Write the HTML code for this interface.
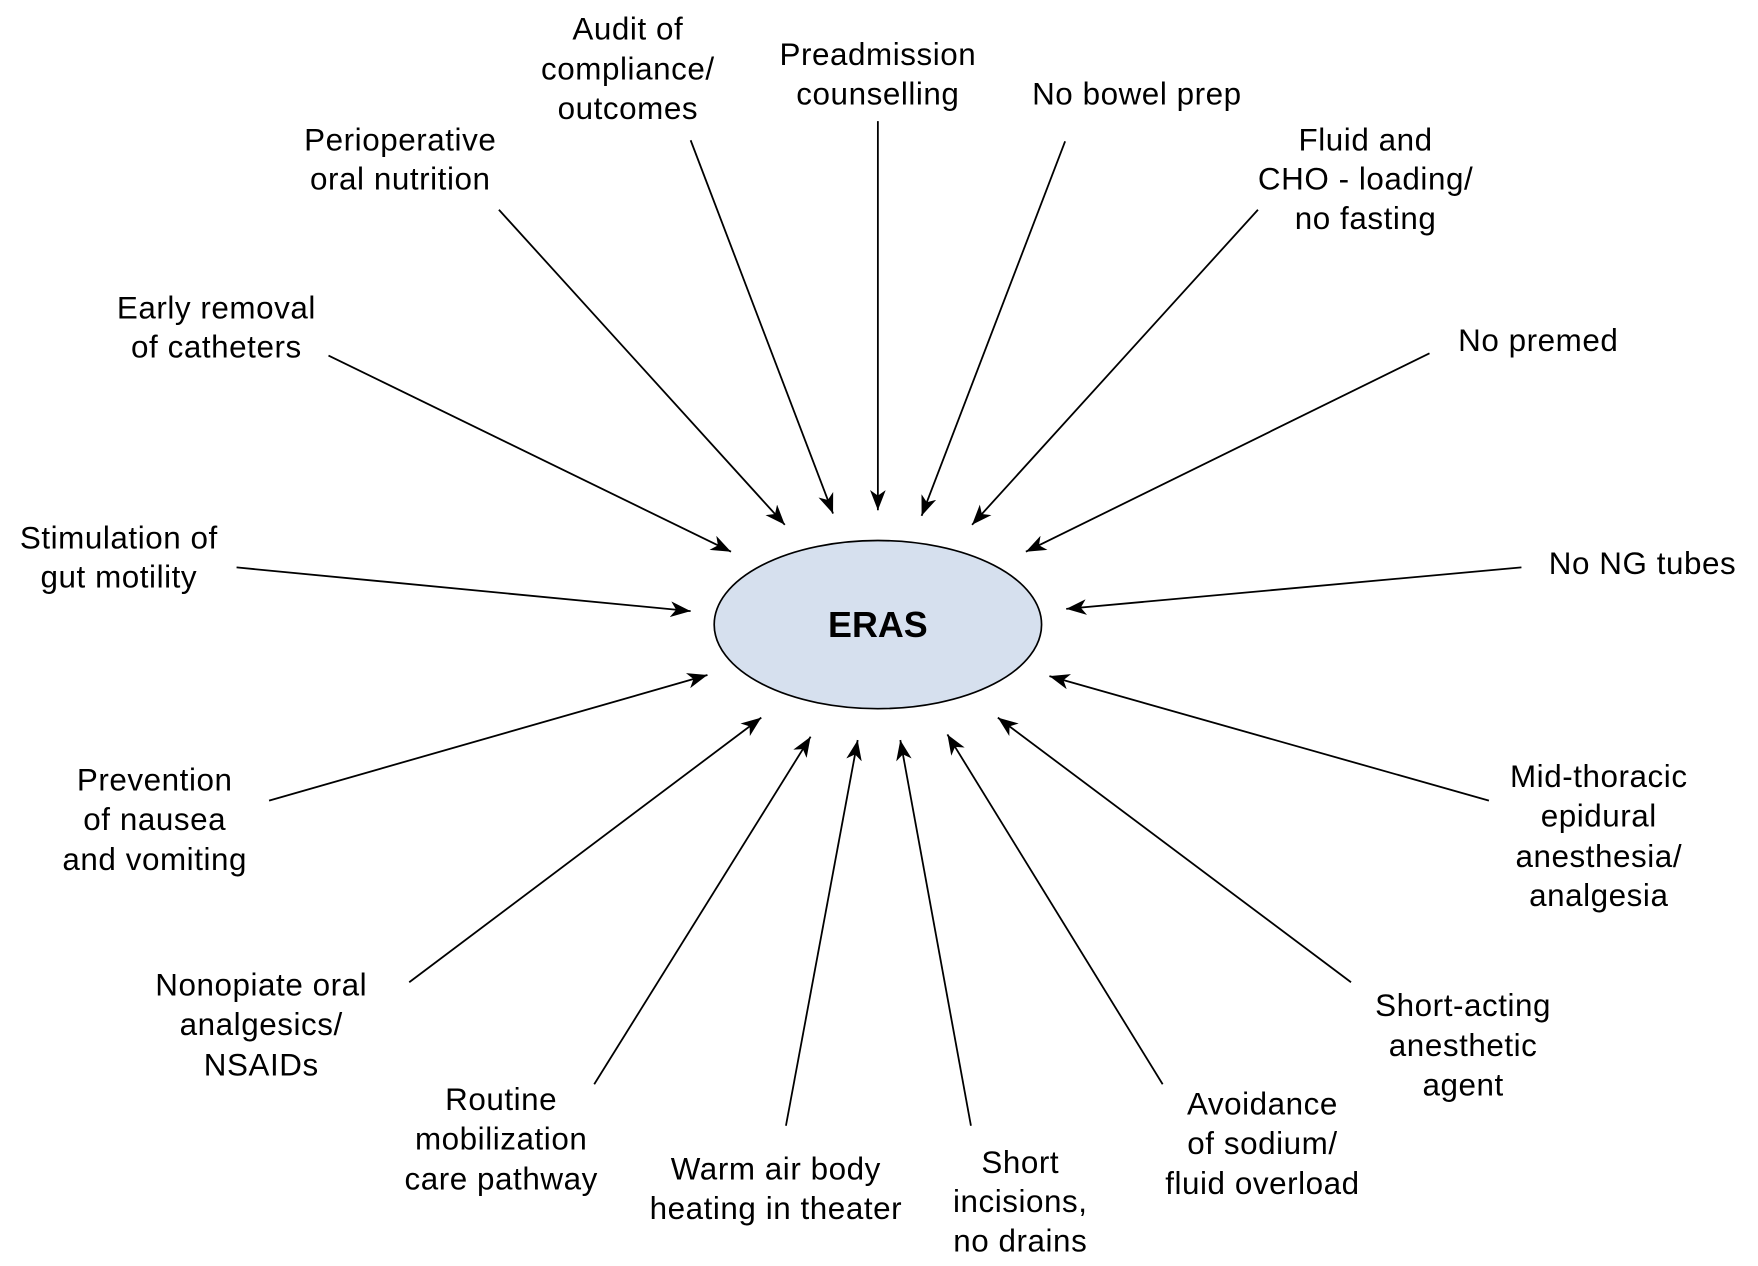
<!DOCTYPE html>
<html><head><meta charset="utf-8"><style>
html,body{margin:0;padding:0;background:#fff;}
svg{display:block;}
text{font-family:"Liberation Sans",Arial,sans-serif;font-size:28px;letter-spacing:0.5px;fill:#000;text-anchor:middle;}
</style></head><body>
<svg width="1758" height="1266" viewBox="0 0 1568 1129" xmlns="http://www.w3.org/2000/svg">
<defs>
<marker id="a" markerWidth="20" markerHeight="14" refX="18" refY="7" orient="auto" markerUnits="userSpaceOnUse">
<path d="M0,0 L18,7 L0,14 L5,7 Z" fill="#000"/>
</marker>
</defs>
<ellipse cx="783" cy="557" rx="146" ry="75" fill="#d6e0ee" stroke="#000" stroke-width="1.5"/>
<text x="783" y="568" style="font-weight:bold;font-size:32px;letter-spacing:0">ERAS</text>
<g stroke="#000" stroke-width="1.6" marker-end="url(#a)">
<line x1="783" y1="108" x2="783" y2="455"/>
<line x1="616" y1="125" x2="743" y2="458"/>
<line x1="950" y1="126" x2="822" y2="460"/>
<line x1="445" y1="187" x2="700" y2="468"/>
<line x1="1122" y1="187" x2="867" y2="468"/>
<line x1="293" y1="317" x2="652" y2="492"/>
<line x1="1275" y1="315" x2="915" y2="492"/>
<line x1="211" y1="506" x2="616" y2="545"/>
<line x1="1357" y1="506" x2="951" y2="543"/>
<line x1="240" y1="714" x2="631" y2="602"/>
<line x1="1328" y1="714" x2="936" y2="603"/>
<line x1="365" y1="876" x2="679" y2="640"/>
<line x1="1205" y1="876" x2="890" y2="640"/>
<line x1="530" y1="967" x2="723" y2="657"/>
<line x1="1037" y1="967" x2="845" y2="655"/>
<line x1="701" y1="1004" x2="765" y2="660"/>
<line x1="866" y1="1004" x2="803" y2="660"/>
</g>
<text x="560" y="35">Audit of</text><text x="560" y="71">compliance/</text><text x="560" y="106">outcomes</text>
<text x="783" y="58">Preadmission</text><text x="783" y="93">counselling</text>
<text x="1014" y="93">No bowel prep</text>
<text x="357" y="134">Perioperative</text><text x="357" y="169">oral nutrition</text>
<text x="1218" y="134">Fluid and</text><text x="1218" y="169">CHO - loading/</text><text x="1218" y="204">no fasting</text>
<text x="193" y="284">Early removal</text><text x="193" y="319">of catheters</text>
<text x="1372" y="313">No premed</text>
<text x="106" y="489">Stimulation of</text><text x="106" y="524">gut motility</text>
<text x="1465" y="512">No NG tubes</text>
<text x="138" y="705">Prevention</text><text x="138" y="740">of nausea</text><text x="138" y="776">and vomiting</text>
<text x="1426" y="702">Mid-thoracic</text><text x="1426" y="737">epidural</text><text x="1426" y="773">anesthesia/</text><text x="1426" y="808">analgesia</text>
<text x="233" y="888">Nonopiate oral</text><text x="233" y="923">analgesics/</text><text x="233" y="959">NSAIDs</text>
<text x="1305" y="906">Short-acting</text><text x="1305" y="942">anesthetic</text><text x="1305" y="977">agent</text>
<text x="447" y="990">Routine</text><text x="447" y="1025">mobilization</text><text x="447" y="1061">care pathway</text>
<text x="1126" y="994">Avoidance</text><text x="1126" y="1029">of sodium/</text><text x="1126" y="1065">fluid overload</text>
<text x="692" y="1052">Warm air body</text><text x="692" y="1087">heating in theater</text>
<text x="910" y="1046">Short</text><text x="910" y="1081">incisions,</text><text x="910" y="1116">no drains</text>
</svg>
</body></html>
